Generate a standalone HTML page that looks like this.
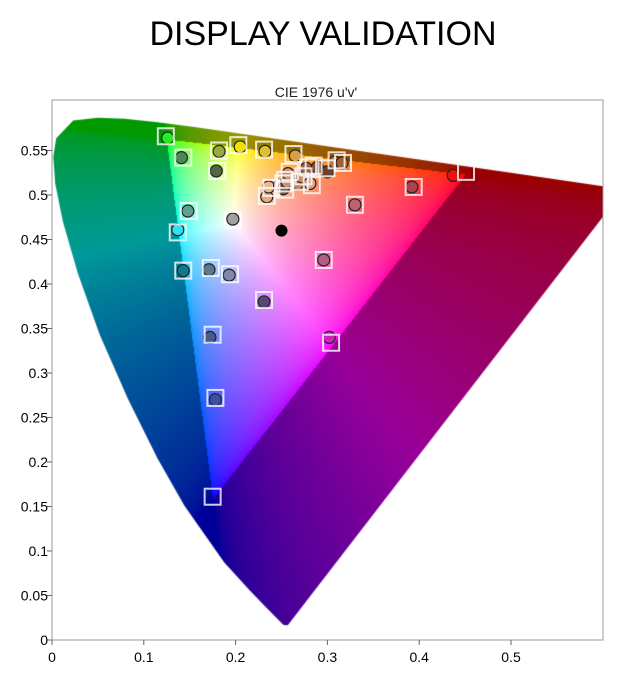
<!DOCTYPE html>
<html><head><meta charset="utf-8"><style>
body{margin:0;background:#fff;width:626px;height:695px;overflow:hidden;position:relative;font-family:"Liberation Sans",sans-serif}
#cv{position:absolute;left:0;top:0}
#ov{position:absolute;left:0;top:0}
</style></head><body>
<canvas id="cv" width="626" height="695"></canvas>
<svg id="ov" width="626" height="695">
<text x="323" y="45" text-anchor="middle" font-size="34" fill="#000">DISPLAY VALIDATION</text>
<text x="316" y="97" text-anchor="middle" font-size="14" fill="#222">CIE 1976 u'v'</text>
<rect x="52" y="100" width="551" height="540" fill="none" stroke="#9a9a9a"/>
<g id="axes"></g>
<g id="marks"></g>
</svg>
<script>
const xTicks=[0,0.1,0.2,0.3,0.4,0.5];
const yTicks=[0,0.05,0.1,0.15,0.2,0.25,0.3,0.35,0.4,0.45,0.5,0.55];
const locusU=[0.2568,0.2522,0.2347,0.216,0.1877,0.1441,0.1147,0.0828,0.0521,0.0282,0.0119,0.0035,0.0014,0.0046,0.0231,0.0501,0.0792,0.1127,0.1531,0.2026,0.2623,0.3315,0.4035,0.5203,0.6234];
const locusV=[0.0165,0.0169,0.035,0.055,0.0871,0.151,0.2044,0.2708,0.3427,0.4117,0.4699,0.513,0.5431,0.5638,0.5837,0.5868,0.5856,0.5821,0.5766,0.5694,0.5604,0.5501,0.5393,0.5219,0.5065];
const measU=[0.126,0.141,0.182,0.205,0.232,0.265,0.179,0.148,0.137,0.197,0.143,0.171,0.193,0.231,0.172,0.302,0.296,0.330,0.392,0.437,0.178,null,0.234,0.236,0.248,0.252,0.256,0.257,0.268,0.273,0.277,0.281,0.289,0.300,0.308,0.316];
const measV=[0.564,0.542,0.549,0.554,0.549,0.544,0.527,0.482,0.461,0.473,0.415,0.416,0.410,0.380,0.340,0.340,0.427,0.489,0.509,0.522,0.270,null,0.498,0.509,0.511,0.507,0.515,0.524,0.513,0.520,0.530,0.513,0.531,0.526,0.537,0.536];
const targU=[0.124,0.143,0.182,0.203,0.231,0.263,0.180,0.149,0.137,0.197,0.143,0.173,0.194,0.231,0.175,0.304,0.296,0.330,0.394,0.451,0.178,0.175,0.234,0.239,0.252,0.254,0.254,0.259,0.270,0.274,0.279,0.283,0.285,0.299,0.310,0.317];
const targV=[0.566,0.542,0.550,0.556,0.551,0.546,0.527,0.482,0.458,0.472,0.415,0.418,0.411,0.382,0.343,0.334,0.427,0.489,0.509,0.526,0.272,0.161,0.499,0.508,0.513,0.506,0.517,0.526,0.515,0.521,0.531,0.511,0.533,0.530,0.539,0.536];
const pointColors=["#22ee22","#4a8a50","#99aa44","#f0e000","#e0c030","#d8a040","#556644","#60a090","#30e0f0","#a0a0a0","#107890","#5a7890","#8088a8","#584870","#4a5890","#d020c0","#b06080","#c06070","#b04050","#ee1111","#3a50a0",null,"#e8a888","#f0b890","#d89878","#7a5a48","#c89070","#d09070","#c08060","#d08a60","#a06040","#e0a080","#805030","#704030","#c07040","#a06030"];
const whiteU=[0.250],whiteV=[0.460];
const X0=52,X1=603,Y0=100,Y1=640;
const sx=u=>X0+u*918, sy=v=>Y1-v*890;
const NS="http://www.w3.org/2000/svg";
const axes=document.getElementById('axes');
function mk(tag,attrs,parent){const e=document.createElementNS(NS,tag);for(const k in attrs)e.setAttribute(k,attrs[k]);parent.appendChild(e);return e;}
xTicks.forEach(t=>{
  const l=mk('line',{x1:sx(t),x2:sx(t),y1:Y1,y2:Y1+5,stroke:'#666'},axes);
  
  
  const tx=mk('text',{x:sx(t),y:Y1+22,'text-anchor':'middle','font-size':14,fill:'#000'},axes);
  tx.textContent=String(t);
  
  
});
yTicks.forEach(t=>{
  const l=mk('line',{x1:X0-5,x2:X0,y1:sy(t),y2:sy(t),stroke:'#666'},axes);
  
  
  const tx=mk('text',{x:X0-4,y:sy(t)+5,'text-anchor':'end','font-size':14,fill:'#000'},axes);
  tx.textContent=String(t);
  
  
});
// canvas fill
const cv=document.getElementById('cv'),ctx=cv.getContext('2d');
const W=X1-X0,H=Y1-Y0;
const off=document.createElement('canvas');off.width=W;off.height=H;
const octx=off.getContext('2d');const img=octx.createImageData(W,H);
const g=c=>c<=0.0031308?12.92*c:1.055*Math.pow(c,1/2.4)-0.055;
for(let j=0;j<H;j++)for(let i=0;i<W;i++){
  const u=(i+X0+0.5-X0)/918, v=(Y1-(j+Y0+0.5))/890;
  const d=6*u-16*v+12; const x=9*u/d, y=4*v/d;
  let R=0,G=0,B=0;
  if(y>0.001){const Xc=x/y,Zc=(1-x-y)/y;
    R=3.2406*Xc-1.5372-0.4986*Zc;G=-0.9689*Xc+1.8758+0.0415*Zc;B=0.0557*Xc-0.2040+1.0570*Zc;}
  const out=R<0||G<0||B<0;
  R=Math.max(R,0);G=Math.max(G,0);B=Math.max(B,0);
  const m=Math.max(R,G,B)||1;
  let r=g(R/m),gg=g(G/m),b=g(B/m);
  const f=out?0.6:1;
  const k=(j*W+i)*4;
  img.data[k]=r*f*255;img.data[k+1]=gg*f*255;img.data[k+2]=b*f*255;img.data[k+3]=255;
}
octx.putImageData(img,0,0);
ctx.save();
ctx.beginPath();ctx.rect(X0,Y0,W,H);ctx.clip();
ctx.beginPath();
locusU.forEach((u,i)=>{i?ctx.lineTo(sx(u),sy(locusV[i])):ctx.moveTo(sx(u),sy(locusV[i]));});
ctx.lineTo(sx(0.2568),sy(0.0165));
ctx.closePath();ctx.clip();
ctx.drawImage(off,X0,Y0);
ctx.restore();
// marks
const marks=document.getElementById('marks');
measU.forEach((u,i)=>{
  if(pointColors[i]){
    const c=mk('circle',{cx:sx(u),cy:sy(measV[i]),r:6,fill:pointColors[i],stroke:'#222','stroke-width':1.2},marks);
    
    
  }
});
targU.forEach((u,i)=>{
  const r=mk('rect',{x:sx(u)-8,y:sy(targV[i])-8,width:16,height:16,fill:'none',stroke:'#fff','stroke-opacity':0.8,'stroke-width':2},marks);
  
  
});
whiteU.forEach((u,i)=>{
  const c=mk('circle',{cx:sx(u),cy:sy(whiteV[i]),r:6,fill:'#000'},marks);
  
  
});
</script>
</body></html>
